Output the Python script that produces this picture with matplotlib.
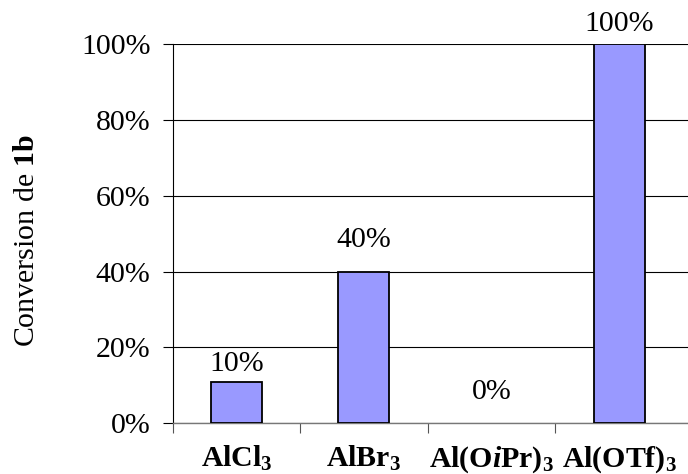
import matplotlib
matplotlib.use("Agg")

import matplotlib.pyplot as plt
import numpy as np

# catalysts and conversion of 1b
catalysts = [r"$\mathbf{AlCl_3}$", r"$\mathbf{AlBr_3}$",
             r"$\mathbf{Al(O}\mathbfit{i}\mathbf{Pr)_3}$", r"$\mathbf{Al(OTf)_3}$"]
conversion = [0.108, 0.40, 0.0, 1.0]
value_labels = ["10%", "40%", "0%", "100%"]
y_ticks = [0.0, 0.2, 0.4, 0.6, 0.8, 1.0]
y_tick_labels = ["0%", "20%", "40%", "60%", "80%", "100%"]

plt.rcParams["font.family"] = "Liberation Serif"
plt.rcParams["mathtext.fontset"] = "custom"
plt.rcParams["mathtext.rm"] = "Liberation Serif"
plt.rcParams["mathtext.it"] = "Liberation Serif:italic"
plt.rcParams["mathtext.bf"] = "Liberation Serif:bold"
plt.rcParams["mathtext.bfit"] = "Liberation Serif:bold:italic"

fig = plt.figure(figsize=(6.88, 4.74), dpi=100)
ax = fig.add_axes([0.2510, 0.1070, 0.7490, 0.8002])

x = np.arange(len(catalysts))
bars = ax.bar(x, conversion, width=0.4, color="#9999ff", edgecolor="black",
              linewidth=1.3, zorder=3)
for b, val in zip(bars, conversion):
    if val == 0:
        b.set_linewidth(0)  # no flat line for an empty bar

# labels sit at slightly different heights in the original
label_offsets = [5, 19, 18, 7]
for xi, val, txt, off in zip(x, conversion, value_labels, label_offsets):
    ax.annotate(txt, (xi, val), xytext=(0, off * 0.72), textcoords="offset points",
                ha="center", va="bottom", fontsize=21.5)

ax.set_xlim(-0.5, 3.541)
ax.set_ylim(0, 1.0)

ax.set_yticks(y_ticks)
ax.set_yticklabels(y_tick_labels, fontsize=21.5)
ax.tick_params(axis="y", direction="out", length=7, width=0.8, pad=9, color="black")
ax.yaxis.grid(True, color="black", linewidth=0.8, zorder=0)

ax.set_xticks(x)
ax.set_xticklabels(catalysts, fontsize=21.5)
ax.set_xticks(np.arange(-0.5, 3.0, 1.0), minor=True)
ax.tick_params(axis="x", which="major", length=0, pad=15)
ax.tick_params(axis="x", which="minor", direction="out", length=7, width=0.8, color="#555555")

ax.spines["top"].set_visible(False)
ax.spines["right"].set_visible(False)
ax.spines["left"].set_linewidth(0.8)
ax.spines["bottom"].set_color("#777777")
ax.spines["bottom"].set_linewidth(1.0)
ax.set_axisbelow(True)

ax.set_ylabel(r"Conversion de $\mathbf{1b}$", fontsize=21.5)
ax.yaxis.set_label_coords(-0.257, 0.483)

fig.savefig("out.png", dpi=100)
plt.close(fig)
